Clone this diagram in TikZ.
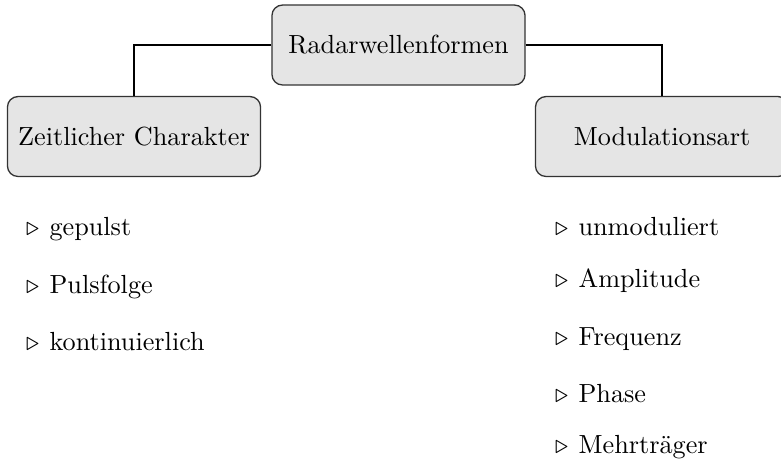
\documentclass[tikz,border=0pt]{standalone}
\usepackage{amssymb}
\begin{document}
\begin{tikzpicture}[x=0.3817pt,y=-0.3817pt,
  box/.style={draw=black!80,fill=gray!20,rounded corners=4pt,minimum width=96.6pt,minimum height=30.5pt,inner sep=2pt,line width=0.5pt},
  conn/.style={line width=0.8pt},
  item/.style={anchor=base west,inner sep=0pt}]
\useasboundingbox (0,0) rectangle (781,460);
\node[box] (root) at (398.5,45) {Radarwellenformen};
\node[box] (left) at (134,136.5) {Zeitlicher Charakter};
\node[box] (right) at (662,136.5) {Modulationsart};
\draw[conn] (root.west) -| (left.north);
\draw[conn] (root.east) -| (right.north);
\node[item] (l1) at (25.5,235) {$\triangleright$\hspace{4pt}gepulst};
\node[item] (l2) at (25.5,293) {$\triangleright$\hspace{4pt}Pulsfolge};
\node[item] (l3) at (25.5,350) {$\triangleright$\hspace{4pt}kontinuierlich};
\node[item] (r1) at (554.5,235) {$\triangleright$\hspace{4pt}unmoduliert};
\node[item] (r2) at (554.5,287) {$\triangleright$\hspace{4pt}Amplitude};
\node[item] (r3) at (554.5,345) {$\triangleright$\hspace{4pt}Frequenz};
\node[item] (r4) at (554.5,402) {$\triangleright$\hspace{4pt}Phase};
\node[item] (r5) at (554.5,453) {$\triangleright$\hspace{4pt}Mehrträger};
\end{tikzpicture}
\end{document}
